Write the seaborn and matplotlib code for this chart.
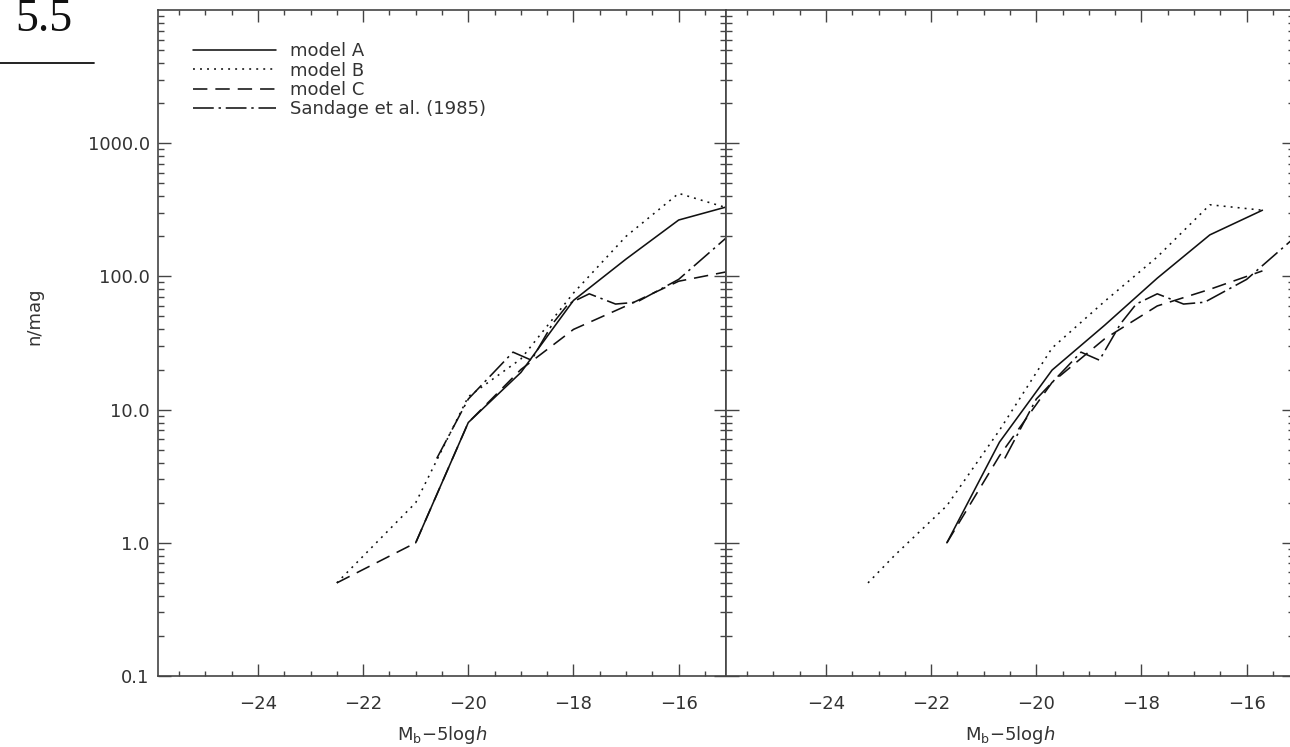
import numpy as np
import matplotlib
matplotlib.use("Agg")
import matplotlib.pyplot as plt
import seaborn as sns
from matplotlib.ticker import FixedLocator, MultipleLocator, LogLocator, NullFormatter, FuncFormatter
from matplotlib.lines import Line2D

# ---------------- data ----------------
legend_labels = ["model A", "model B", "model C", "Sandage et al. (1985)"]
x_ticks = [-24, -22, -20, -18, -16]
y_ticks = [0.1, 1.0, 10.0, 100.0, 1000.0]

# left panel
left_a_x = [-21, -20, -19, -18, -17, -16, -15]
left_a_y = [1.0, 8.0, 19, 66, 135, 265, 340]
left_b_x = [-22.5, -21, -20, -19, -18, -17, -16, -15]
left_b_y = [0.5, 2.0, 12.5, 24, 75, 200, 420, 320]
left_c_x = [-22.5, -21, -20, -19, -18, -17, -16, -15]
left_c_y = [0.5, 1.0, 8.0, 20, 40, 60, 92, 110]

# observational data (same in both panels)
sandage_x = [-20.6, -20.0, -19.15, -18.8, -18.4, -18.1, -17.7, -17.2, -16.8, -16.0, -15.0]
sandage_y = [4.3, 12, 27, 23.5, 44, 62, 74, 62, 64, 95, 210]

# right panel
right_a_x = [-21.7, -20.7, -19.7, -18.7, -17.7, -16.7, -15.7]
right_a_y = [1.0, 5.7, 19.8, 43, 97, 205, 314]
right_b_x = [-23.2, -22.7, -21.7, -20.7, -19.7, -18.7, -17.7, -16.7, -15.7]
right_b_y = [0.5, 0.8, 1.9, 7.0, 29, 65, 140, 345, 314]
right_c_x = [-21.7, -20.7, -19.7, -18.7, -17.7, -16.7, -15.7]
right_c_y = [1.0, 4.5, 16, 34, 60, 80, 110]

# ---------------- style ----------------
sns.set_theme(style="ticks")
plt.rcParams["font.family"] = ["DejaVu Sans"]
plt.rcParams["mathtext.fontset"] = "dejavusans"

LINE = "#111111"
AX = "#444444"
TXT = "#333333"
styles = {
    "A": "-",
    "B": (0, (1.2, 3.2)),
    "C": (0, (9, 5)),
    "S": (0, (13, 3, 1.5, 3)),
}

fig = plt.figure(figsize=(12.9, 7.47), dpi=100)
W, H = 1290, 747
ax_l = fig.add_axes([158 / W, (H - 676) / H, 568 / W, 666 / H])
ax_r = fig.add_axes([726 / W, (H - 676) / H, 568 / W, 666 / H])


def draw(ax, series, with_labels):
    for (xs, ys, key), lab in zip(series, legend_labels):
        sns.lineplot(x=xs, y=ys, ax=ax, color=LINE, lw=1.15,
                     linestyle=styles[key],
                     label=lab if with_labels else None,
                     legend=False, sort=False)


draw(ax_l, [(left_a_x, left_a_y, "A"), (left_b_x, left_b_y, "B"),
            (left_c_x, left_c_y, "C"), (sandage_x, sandage_y, "S")], True)
draw(ax_r, [(right_a_x, right_a_y, "A"), (right_b_x, right_b_y, "B"),
            (right_c_x, right_c_y, "C"), (sandage_x, sandage_y, "S")], False)

for ax in (ax_l, ax_r):
    ax.set_yscale("log")
    ax.set_xlim(-25.9, -15.1)
    ax.set_ylim(0.1, 10000)
    ax.xaxis.set_major_locator(FixedLocator(x_ticks))
    ax.xaxis.set_minor_locator(MultipleLocator(0.5))
    ax.xaxis.set_major_formatter(FuncFormatter(lambda v, p: f"\u2212{abs(int(v))}"))
    ax.yaxis.set_major_locator(FixedLocator(y_ticks))
    ax.yaxis.set_minor_locator(LogLocator(base=10, subs=np.arange(2, 10), numticks=20))
    ax.yaxis.set_minor_formatter(NullFormatter())
    ax.yaxis.set_major_formatter(FuncFormatter(lambda v, p: f"{v:.1f}"))
    ax.tick_params(axis="both", which="both", direction="in", top=True, right=True,
                   color=AX, labelcolor=TXT, width=1.0)
    ax.tick_params(axis="x", which="major", length=8.5, pad=14, labelsize=13)
    ax.tick_params(axis="x", which="minor", length=3.5)
    ax.tick_params(axis="y", which="major", length=9, pad=6, labelsize=13)
    ax.tick_params(axis="y", which="minor", length=4.5)
    for sp in ax.spines.values():
        sp.set_visible(True)
        sp.set_color(AX)
        sp.set_linewidth(1.2)
    ax.set_facecolor("white")
    ax.set_xlabel(r"M$_{\mathrm{b}}$$-$5log$h$", fontsize=13, color=TXT)
    ax.xaxis.set_label_coords(0.5, -0.072)

ax_r.tick_params(axis="y", which="both", labelleft=False)
ax_r.set_ylabel("")
ax_l.set_ylabel("n/mag", fontsize=13, color=TXT)
ax_l.yaxis.set_label_coords(-0.201, 0.54)

ax_l.legend(loc="upper left", bbox_to_anchor=(35 / 568, 0.9515), frameon=False,
            fontsize=13, handlelength=4.6, handletextpad=0.8, labelspacing=0.07,
            borderpad=0, borderaxespad=0, labelcolor=TXT)

# page header fragment
fig.text(15 / W, 1 - 31 / H, "5.5", fontsize=33, family="Liberation Serif",
         color="#111111", va="baseline", ha="left")
fig.add_artist(Line2D([0, 94 / W], [1 - 63 / H, 1 - 63 / H], color="#111111", lw=1.3))

fig.savefig("out.png", dpi=100, facecolor="white")
